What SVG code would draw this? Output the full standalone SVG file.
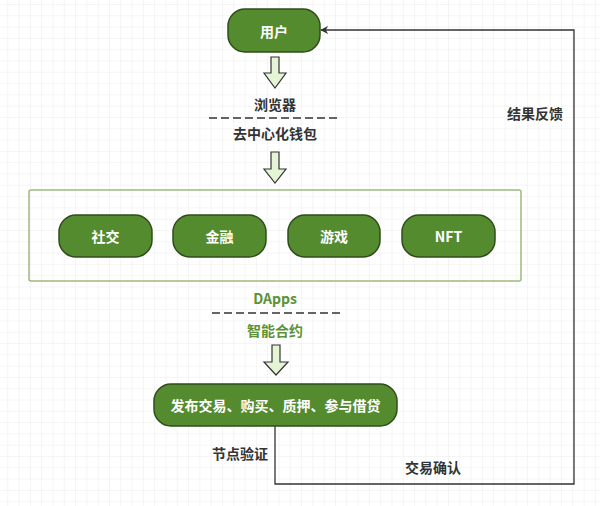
<svg xmlns="http://www.w3.org/2000/svg" width="600" height="506" viewBox="0 0 600 506">
<defs>
<pattern id="grid" x="7.3" y="4" width="11.3" height="11.3" patternUnits="userSpaceOnUse">
<path d="M0 0 V11.3 M0 0 H11.3" fill="none" stroke="#ebebeb" stroke-width="1"/>
</pattern>
<marker id="arr" viewBox="0 0 10 10" refX="9" refY="5" markerWidth="8" markerHeight="8" markerUnits="userSpaceOnUse" orient="auto">
<path d="M0 0 L10 5 L0 10 L3 5 Z" fill="#333"/>
</marker>
<style>
.node rect{fill:#558b2f;stroke:#2f4d1c;stroke-width:1.5}
.nt{font-family:"Noto Sans CJK SC","Liberation Sans",sans-serif;font-size:14px;font-weight:bold;fill:#ffffff;text-anchor:middle;dominant-baseline:central}
.lbl{font-family:"Noto Sans CJK SC","Liberation Sans",sans-serif;font-size:14px;font-weight:bold;fill:#333333;text-anchor:middle;dominant-baseline:central}
.glbl{font-family:"Noto Sans CJK SC","Liberation Sans",sans-serif;font-size:14px;font-weight:bold;fill:#5b9234;text-anchor:middle;dominant-baseline:central}
.blk{fill:#e6f4d6;stroke:#333;stroke-width:1.2}
.dash{stroke:#333;stroke-width:1.5;stroke-dasharray:8 4;fill:none}
.conn{stroke:#333;stroke-width:1.3;fill:none}
</style>
</defs>
<rect width="600" height="506" fill="#ffffff"/>
<rect width="600" height="506" fill="url(#grid)"/>

<g id="container">
<rect x="29" y="190" width="492" height="91" rx="2" fill="none" stroke="#9cbb80" stroke-width="1.5"/>
</g>

<g id="connectors">
<path class="conn" d="M275 426 V484 H574 V30 H321" marker-end="url(#arr)"/>
<path class="blk" d="M271 57 H279 V73 H286 L275 88 L264 73 H271 Z"/>
<path class="blk" d="M271 152 H279 V169 H286 L275 183 L264 169 H271 Z"/>
<path class="blk" d="M272 345 H280 V362 H288 L276 375 L264 362 H272 Z"/>
<line class="dash" x1="209" y1="118" x2="338" y2="118"/>
<line class="dash" x1="212" y1="313" x2="340" y2="313"/>
</g>

<g id="user" class="node"><rect x="228" y="9" width="92" height="43" rx="17"/><text class="nt" x="274" y="31">用户</text></g>
<g id="social" class="node"><rect x="59" y="215" width="93" height="42" rx="17"/><text class="nt" x="105.5" y="236">社交</text></g>
<g id="finance" class="node"><rect x="173" y="215" width="93" height="42" rx="17"/><text class="nt" x="219.5" y="236">金融</text></g>
<g id="game" class="node"><rect x="288" y="215" width="92" height="42" rx="17"/><text class="nt" x="334" y="236">游戏</text></g>
<g id="nft" class="node"><rect x="402" y="215" width="93" height="42" rx="17"/><text class="nt" x="448.5" y="236">NFT</text></g>
<g id="tx" class="node"><rect x="154" y="384" width="243" height="42" rx="17"/><text class="nt" x="275.5" y="405">发布交易、购买、质押、参与借贷</text></g>

<g id="labels">
<text class="lbl" x="275" y="104">浏览器</text>
<text class="lbl" x="275" y="133">去中心化钱包</text>
<text class="glbl" x="275" y="298">DApps</text>
<text class="glbl" x="275" y="330">智能合约</text>
<text class="lbl" x="240" y="453">节点验证</text>
<text class="lbl" x="433" y="467">交易确认</text>
<text class="lbl" x="535" y="113">结果反馈</text>
</g>
</svg>
